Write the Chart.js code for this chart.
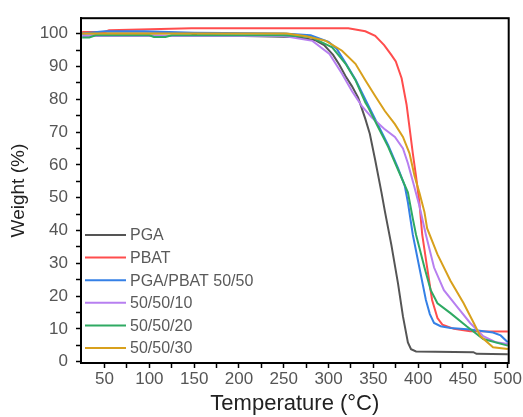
<!DOCTYPE html>
<html>
<head>
<meta charset="utf-8">
<script src="https://cdn.jsdelivr.net/npm/chart.js@4.4.1/dist/chart.umd.min.js"></script>
<style>
  html, body { margin: 0; padding: 0; background: #fff; }
  #chart { display: block; }
</style>
</head>
<body>
<canvas id="chart" width="523" height="417"></canvas>
<script>
// Series names
const seriesNames = ['PGA', 'PBAT', 'PGA/PBAT 50/50', '50/50/10', '50/50/20', '50/50/30'];

// Temperatures (°C) and weights (%)
const pgaTemp = [25, 100, 145, 153, 222, 264, 285, 295, 305, 312, 319, 326, 333, 341, 346, 352, 359, 363, 370, 377.5, 383, 388.5, 392, 397.6, 461.6, 465, 500];
const pgaWeight = [100, 100, 100.2, 99.5, 99.2, 99.0, 98, 96.5, 93.5, 90.5, 87, 84, 80.5, 74, 69.5, 61.5, 51.6, 45.6, 35.7, 23.8, 13.8, 5.9, 3.8, 3.1, 2.9, 2.4, 2.3];

const pbatTemp = [25, 50, 55, 147, 322, 341, 352, 362, 370, 375, 381.5, 387, 390.3, 394, 397.6, 401.3, 404.5, 410, 415.5, 421.5, 427, 440, 458, 500];
const pbatWeight = [100.5, 100.5, 101, 101.6, 101.6, 100.7, 99.3, 96.5, 93.5, 91.5, 86.4, 78.4, 71.4, 63.5, 56.5, 48.6, 38.7, 28.7, 18.8, 13.3, 11.3, 10, 9.3, 9.2];

const blendTemp = [25, 50, 94, 150, 250, 280, 300, 309, 319, 330, 344.5, 355.5, 366.5, 377.5, 385, 388.5, 394, 401.3, 408.6, 413, 417.7, 425, 436, 458, 483.5, 492, 500];
const blendWeight = [100, 100.7, 100.7, 100.3, 100, 99.5, 97.5, 95.4, 91, 86, 78, 72, 66, 59, 53.6, 48.6, 38.7, 28.7, 18.8, 14.5, 11.8, 10.8, 10.3, 9.8, 8.9, 8, 5.9];

const b10Temp = [25, 250, 282, 301, 315, 326, 337, 348, 362, 374, 383, 388.5, 394, 401.3, 408.6, 417.7, 428.7, 443.3, 458, 472.6, 487, 500];
const b10Weight = [99.3, 99.3, 97.8, 93.8, 87.8, 82.5, 78, 74.5, 71, 68.5, 65, 60.5, 55, 47.5, 38.7, 28.7, 21.8, 16.8, 11.8, 7.8, 5.9, 5.4];

const b20Temp = [25, 33, 40, 100, 105, 118, 125, 250, 280, 304, 319, 330, 341, 344.5, 355.5, 366.5, 377.5, 388.5, 394, 397.6, 407, 414, 421.5, 436, 454, 472.6, 500];
const b20Weight = [98.8, 98.8, 99.5, 99.5, 99.0, 99.0, 99.5, 99.5, 99, 95.8, 90.8, 85.8, 79, 77.4, 71.4, 65.5, 58.5, 51.6, 43.6, 38.7, 28.7, 21.8, 17.8, 14.8, 10.8, 6.9, 4.9];

const b30Temp = [25, 253, 275, 297, 315, 330, 341, 352, 362.8, 374, 383, 390.3, 396, 401.3, 407, 410, 421.5, 436, 450.7, 462, 469.3, 483.5, 500];
const b30Weight = [100, 100, 99.2, 97.8, 94.8, 90.8, 85.8, 81, 76.4, 72.4, 68.5, 63.5, 56.5, 51.6, 45.6, 40.6, 32.7, 24.7, 17.8, 11.8, 7.8, 4.4, 3.9];

// Tick positions (labels only on every other one)
const xTicks = [50, 75, 100, 125, 150, 175, 200, 225, 250, 275, 300, 325, 350, 375, 400, 425, 450, 475, 500];
const yTicks = [0, 5, 10, 15, 20, 25, 30, 35, 40, 45, 50, 55, 60, 65, 70, 75, 80, 85, 90, 95, 100];

const colors = ['#555555', '#ff4d4d', '#3580e6', '#b77ff0', '#2faa63', '#d8a01c'];
const temps = [pgaTemp, pbatTemp, blendTemp, b10Temp, b20Temp, b30Temp];
const weights = [pgaWeight, pbatWeight, blendWeight, b10Weight, b20Weight, b30Weight];

const FONT = "'Liberation Sans', Arial, sans-serif";

// Box around the plot area
const framePlugin = {
    id: 'frame',
    afterDraw(chart) {
        const { ctx, chartArea: a } = chart;
        ctx.save();
        ctx.strokeStyle = '#000';
        ctx.lineWidth = 2;
        ctx.strokeRect(a.left, a.top, a.right - a.left, a.bottom - a.top);
        ctx.restore();
    }
};

// Legend drawn inside the plot, bottom left
const insideLegend = {
    id: 'insideLegend',
    afterDatasetsDraw(chart) {
        const ctx = chart.ctx;
        const x0 = 85, x1 = 126, tx = 130, y0 = 235, dy = 22.6;
        ctx.save();
        ctx.font = '16px ' + FONT;
        ctx.textBaseline = 'middle';
        chart.data.datasets.forEach((ds, i) => {
            const y = y0 + i * dy;
            ctx.strokeStyle = ds.borderColor;
            ctx.lineWidth = 2;
            ctx.beginPath();
            ctx.moveTo(x0, y);
            ctx.lineTo(x1, y);
            ctx.stroke();
            ctx.fillStyle = '#5a5a5a';
            ctx.fillText(ds.label, tx, y + 1);
        });
        ctx.restore();
    }
};

const ctx = document.getElementById('chart');
const chart = new Chart(ctx.getContext('2d'), {
    type: 'line',
    data: {
        datasets: seriesNames.map((name, i) => ({
            label: name,
            data: temps[i].map((t, j) => ({ x: t, y: weights[i][j] })),
            borderColor: colors[i],
            backgroundColor: colors[i],
            borderWidth: 2,
            pointRadius: 0,
            tension: 0,
            fill: false,
            order: seriesNames.length - 1 - i
        }))
    },
    options: {
        responsive: false,
        animation: false,
        layout: { padding: { top: 12, right: 7, left: 0, bottom: 0 } },
        plugins: {
            legend: { display: false },
            tooltip: { enabled: false }
        },
        scales: {
            x: {
                type: 'linear',
                min: 23.7,
                max: 501,
                afterBuildTicks: scale => { scale.ticks = xTicks.map(v => ({ value: v })); },
                afterFit: scale => { scale.height = 54; },
                ticks: {
                    autoSkip: false,
                    maxRotation: 0,
                    padding: 1,
                    color: '#555',
                    font: { family: FONT, size: 17 },
                    callback: v => (v % 50 === 0 ? v : '')
                },
                grid: {
                    drawOnChartArea: false,
                    drawTicks: true,
                    tickLength: 5,
                    tickColor: '#000',
                    tickWidth: 1.5
                },
                border: { display: true, color: '#000', width: 2 },
                title: {
                    display: true,
                    text: 'Temperature (°C)',
                    color: '#222',
                    font: { family: FONT, size: 22 },
                    padding: { top: 0, bottom: 0 }
                }
            },
            y: {
                min: -0.4,
                max: 104.7,
                afterBuildTicks: scale => { scale.ticks = yTicks.map(v => ({ value: v })); },
                afterFit: scale => { scale.width = 81; },
                ticks: {
                    autoSkip: false,
                    padding: 8,
                    color: '#555',
                    font: { family: FONT, size: 17 },
                    callback: v => (v % 10 === 0 ? v : '')
                },
                grid: {
                    drawOnChartArea: false,
                    drawTicks: true,
                    tickLength: 5,
                    tickColor: '#000',
                    tickWidth: 1.5
                },
                border: { display: true, color: '#000', width: 2 },
                title: {
                    display: true,
                    text: 'Weight (%)',
                    color: '#222',
                    font: { family: FONT, size: 19 },
                    padding: { top: 7, bottom: 0 }
                }
            }
        }
    },
    plugins: [framePlugin, insideLegend]
});
</script>
</body>
</html>
